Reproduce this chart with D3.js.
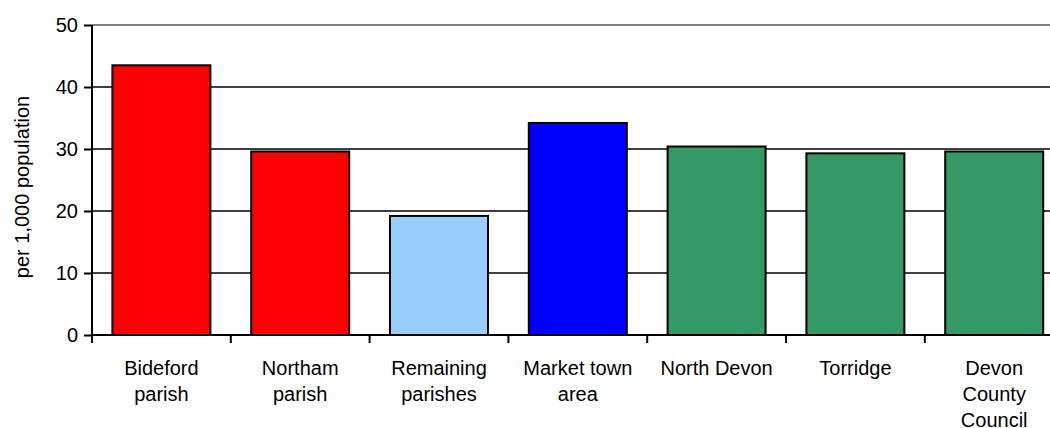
<!DOCTYPE html>
<html><head><meta charset="utf-8">
<script src="https://cdn.jsdelivr.net/npm/d3@7"></script>
<style>body{margin:0;background:#fff}svg{display:block}text{font-family:"Liberation Sans",Arial,sans-serif;fill:#000}</style>
</head><body>
<svg id="c" width="1050" height="428"></svg>
<script>
const categories = [["Bideford","parish"],["Northam","parish"],["Remaining","parishes"],["Market town","area"],["North Devon"],["Torridge"],["Devon","County","Council"]];
const values = [43.5, 29.6, 19.2, 34.2, 30.4, 29.3, 29.6];
const colors = ["#FF0000","#FF0000","#99CCFF","#0000FF","#339966","#339966","#339966"];
const yTicks = [0,10,20,30,40,50];
const yTitle = "per 1,000 population";

(function(){
const svg = d3.select("#c");
const pLeft = 92, pTop = 25, pBottom = 335, step = 138.8;
const keys = categories.map((c,i)=>i);
const y = d3.scaleLinear().domain([0,50]).range([pBottom, pTop]);
const pRight = pLeft + step*keys.length;
const xOuter = d3.scaleBand().domain(keys).range([pLeft, pRight]).padding(0);
const x = d3.scaleBand().domain(keys).range([pLeft, pRight]).paddingInner(0.294).paddingOuter(0.147);

// gridlines
svg.append("g").selectAll("line").data(yTicks.filter(t=>t>0)).join("line")
  .attr("x1", pLeft).attr("x2", pRight)
  .attr("y1", d=>y(d)).attr("y2", d=>y(d))
  .attr("stroke", d=> d===50 ? "#808080" : "#000")
  .attr("stroke-width", d=> d===50 ? 2 : 1.6);

// bars
svg.append("g").selectAll("rect").data(values).join("rect")
  .attr("x", (d,i)=>x(i)).attr("width", x.bandwidth())
  .attr("y", d=>y(d)).attr("height", d=>pBottom - y(d))
  .attr("fill", (d,i)=>colors[i]).attr("stroke","#000").attr("stroke-width",2);

// y axis
const ya = svg.append("g").attr("transform", `translate(${pLeft},0)`)
  .call(d3.axisLeft(y).tickValues(yTicks).tickSize(8).tickPadding(6));
ya.select(".domain").attr("stroke","#000").attr("stroke-width",2).attr("d", `M0,${pTop}V${pBottom+8}`);
ya.selectAll(".tick line").attr("stroke","#000").attr("stroke-width",2);
ya.selectAll(".tick text").attr("font-size", 20).attr("font-family", '"Liberation Sans",Arial,sans-serif').attr("fill","#000");

// x axis
const bounds = keys.map(k=>xOuter(k)).concat([pRight]);
svg.append("line").attr("x1", pLeft).attr("x2", pRight).attr("y1", pBottom).attr("y2", pBottom)
  .attr("stroke","#000").attr("stroke-width",2);
svg.append("g").selectAll("line").data(bounds).join("line")
  .attr("x1", d=>d).attr("x2", d=>d).attr("y1", pBottom).attr("y2", pBottom+8)
  .attr("stroke","#000").attr("stroke-width",2);

// x labels
const lab = svg.append("g").selectAll("text").data(categories).join("text")
  .attr("text-anchor","middle").attr("font-size",20)
  .attr("transform", (d,i)=>`translate(${xOuter(i)+xOuter.bandwidth()/2},0)`);
lab.selectAll("tspan").data(d=>d).join("tspan")
  .attr("x",0).attr("y",(d,j)=>375 + j*26).text(d=>d);

// y title
svg.append("text").attr("transform","translate(29,187) rotate(-90)")
  .attr("text-anchor","middle").attr("font-size",20).text(yTitle);
})();
</script>
</body></html>
